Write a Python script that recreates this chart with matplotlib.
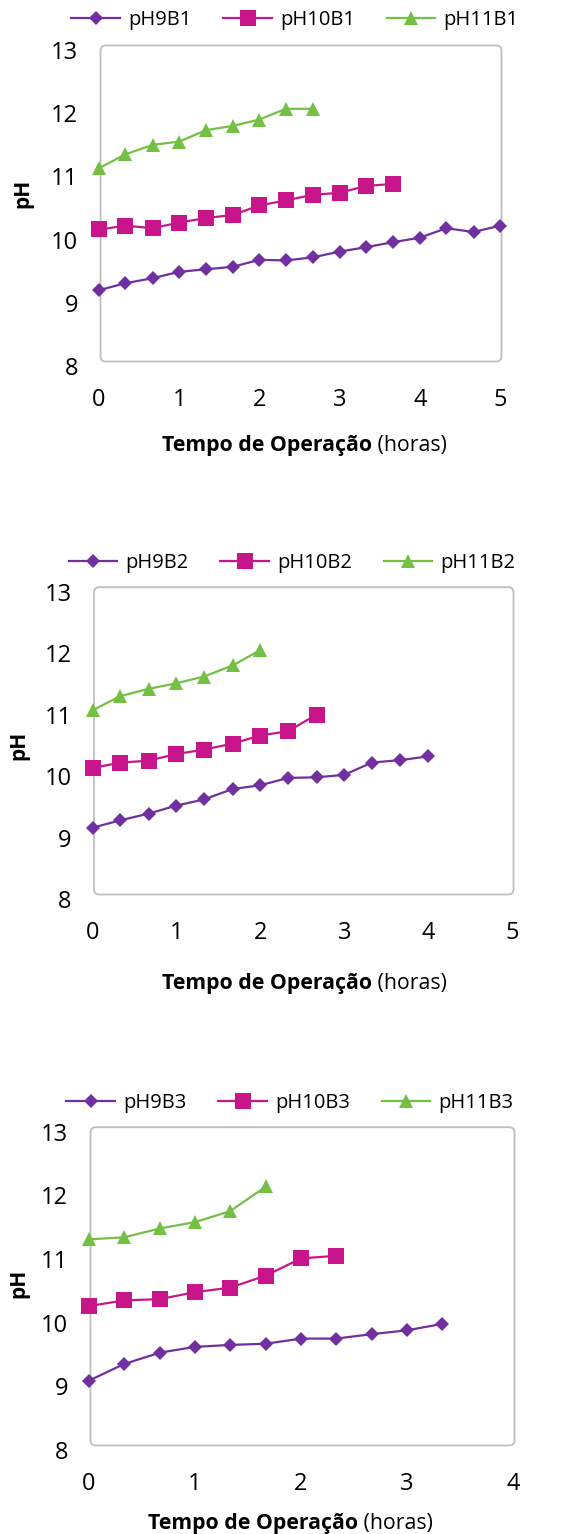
import matplotlib
matplotlib.use('Agg')
import matplotlib.pyplot as plt
from matplotlib.patches import FancyBboxPatch
from matplotlib.transforms import ScaledTranslation

plt.rcParams['font.family'] = ['Open Sans', 'DejaVu Sans']

# tempo (horas), leituras a cada 20 min
t1_ph9 = [0, 0.33, 0.67, 1.0, 1.33, 1.67, 2.0, 2.33, 2.67, 3.0, 3.33, 3.67, 4.0, 4.33, 4.67, 5.0]
ph9b1 = [9.20, 9.31, 9.39, 9.49, 9.53, 9.57, 9.68, 9.67, 9.72, 9.81, 9.88, 9.96, 10.03, 10.18, 10.12, 10.22]
t1_ph10 = [0, 0.33, 0.67, 1.0, 1.33, 1.67, 2.0, 2.33, 2.67, 3.0, 3.33, 3.67]
ph10b1 = [10.16, 10.22, 10.18, 10.27, 10.34, 10.39, 10.54, 10.62, 10.71, 10.74, 10.85, 10.88]
t1_ph11 = [0, 0.33, 0.67, 1.0, 1.33, 1.67, 2.0, 2.33, 2.67]
ph11b1 = [11.13, 11.35, 11.50, 11.55, 11.73, 11.80, 11.90, 12.07, 12.07]

t2_ph9 = [0, 0.33, 0.67, 1.0, 1.33, 1.67, 2.0, 2.33, 2.67, 3.0, 3.33, 3.67, 4.0]
ph9b2 = [9.16, 9.28, 9.39, 9.52, 9.62, 9.79, 9.85, 9.97, 9.98, 10.02, 10.22, 10.26, 10.32]
t2_ph10 = [0, 0.33, 0.67, 1.0, 1.33, 1.67, 2.0, 2.33, 2.67]
ph10b2 = [10.13, 10.22, 10.25, 10.36, 10.43, 10.53, 10.66, 10.73, 11.00]
t2_ph11 = [0, 0.33, 0.67, 1.0, 1.33, 1.67, 2.0]
ph11b2 = [11.07, 11.30, 11.42, 11.51, 11.62, 11.80, 12.05]

t3_ph9 = [0, 0.33, 0.67, 1.0, 1.33, 1.67, 2.0, 2.33, 2.67, 3.0, 3.33]
ph9b3 = [9.09, 9.35, 9.53, 9.62, 9.65, 9.67, 9.75, 9.75, 9.82, 9.88, 9.98]
t3_ph10 = [0, 0.33, 0.67, 1.0, 1.33, 1.67, 2.0, 2.33]
ph10b3 = [10.26, 10.35, 10.37, 10.48, 10.55, 10.74, 11.01, 11.05]
t3_ph11 = [0, 0.33, 0.67, 1.0, 1.33, 1.67]
ph11b3 = [11.31, 11.34, 11.48, 11.58, 11.75, 12.14]

cor9 = '#7030A0'
cor10 = '#C8168A'
cor11 = '#74C044'

W, H = 569, 1534
fig = plt.figure(figsize=(W / 100, H / 100), dpi=100)


def px_axes(left, top, right, bottom):
    return fig.add_axes([left / W, 1 - bottom / H, (right - left) / W, (bottom - top) / H])


# (frame in px, xmax, legend centre, xlabel centre, ylabel centre, series)
paineis = [
    ((99, 50, 500, 366), 5, (295, 20), (304, 445), (23, 193),
     [(t1_ph9, ph9b1, 'pH9B1'), (t1_ph10, ph10b1, 'pH10B1'), (t1_ph11, ph11b1, 'pH11B1')]),
    ((92.5, 591.7, 512, 899), 5, (292, 563), (304, 983), (19, 745),
     [(t2_ph9, ph9b2, 'pH9B2'), (t2_ph10, ph10b2, 'pH10B2'), (t2_ph11, ph11b2, 'pH11B2')]),
    ((89, 1131.7, 513, 1450), 4, (290, 1103), (290, 1523), (19, 1283),
     [(t3_ph9, ph9b3, 'pH9B3'), (t3_ph10, ph10b3, 'pH10B3'), (t3_ph11, ph11b3, 'pH11B3')]),
]

estilos = [(cor9, 'D', 7.5), (cor10, 's', 11), (cor11, '^', 9.5)]

for frame, xmax, leg_c, xl_c, yl_c, series in paineis:
    ax = px_axes(*frame)
    handles = []
    for (x, y, nome), (cor, mk, ms) in zip(series, estilos):
        h, = ax.plot(x, y, color=cor, marker=mk, markersize=ms, linewidth=1.6,
                     markeredgewidth=0, label=nome, clip_on=False)
        handles.append(h)
    ax.set_xlim(0, xmax)
    ax.set_ylim(8, 13)
    ax.set_xticks(range(0, xmax + 1))
    ax.set_yticks(range(8, 14))
    ax.tick_params(length=0, labelsize=17)
    ax.tick_params(axis='x', pad=16)
    ax.tick_params(axis='y', pad=15)
    for s in ax.spines.values():
        s.set_visible(False)
    ax.patch.set_visible(False)

    # rounded plot-area border, slightly above the data frame like Excel draws it
    fw = frame[2] - frame[0]
    fh = frame[3] - frame[1]
    caixa = FancyBboxPatch((0, 0), 1, 1, boxstyle='round,pad=0,rounding_size=0.013',
                           mutation_aspect=fw / fh, transform=ax.transAxes +
                           ScaledTranslation(0.015, 0.045, fig.dpi_scale_trans),
                           facecolor='none', edgecolor='#BFBFBF', linewidth=1.3,
                           clip_on=False, zorder=0)
    ax.add_artist(caixa)

    leg = fig.legend(handles=handles, loc='center', ncol=3, frameon=False,
                     bbox_to_anchor=(leg_c[0] / W, 1 - leg_c[1] / H),
                     fontsize=14.5, handlelength=2.4, handletextpad=0.4,
                     columnspacing=1.6, borderaxespad=0)
    for lh in leg.get_lines():
        lh.set_linewidth(1.6)

    fig.text(yl_c[0] / W, 1 - yl_c[1] / H, 'pH', rotation=90, fontsize=15,
             fontweight='bold', ha='center', va='center')

    # xlabel: bold part + regular part, centred as a whole
    tb = fig.text(0, 1 - xl_c[1] / H, 'Tempo de Operação', fontsize=15.3,
                  fontweight='bold', ha='left', va='center')
    tr = fig.text(0, 1 - xl_c[1] / H, ' (horas)', fontsize=15.3, ha='left', va='center')
    r = fig.canvas.get_renderer()
    wb = tb.get_window_extent(r).width
    wr = tr.get_window_extent(r).width
    x0 = xl_c[0] - (wb + wr) / 2
    tb.set_x(x0 / W)
    tr.set_x((x0 + wb) / W)

fig.savefig('out.png', dpi=100)
